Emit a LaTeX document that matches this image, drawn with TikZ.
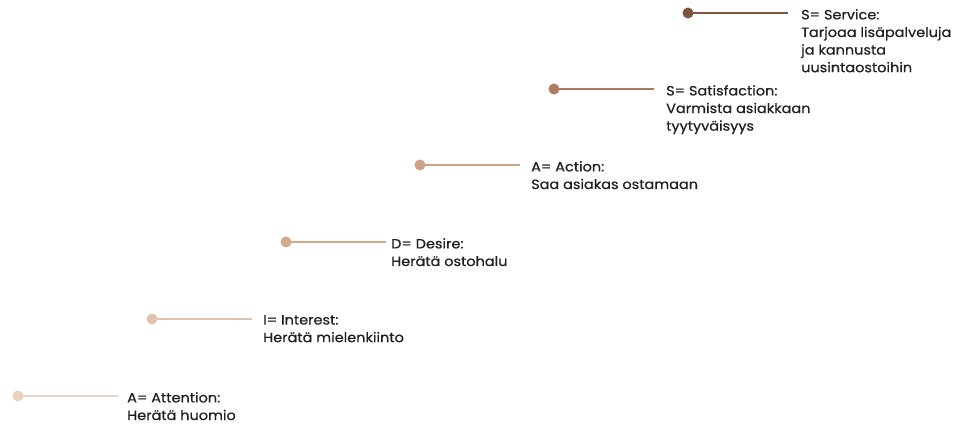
\documentclass[tikz,border=0pt]{standalone}
\usepackage{fontspec}
\setmainfont{Poppins}[FakeStretch=1.08,FakeBold=0.6]
\begin{document}
\begin{tikzpicture}[x=1pt,y=-1pt,
  dotmark/.style={circle,inner sep=0pt,minimum size=11pt},
  stem/.style={line width=2pt},
  label/.style={anchor=north west,align=left,inner sep=0pt,
    font=\fontsize{13.4}{17.6}\selectfont,text=black!88}]
\useasboundingbox (0,0) rectangle (955,425);
\definecolor{c1}{HTML}{ECD3BF}
\definecolor{c2}{HTML}{E0C3AE}
\definecolor{c3}{HTML}{D4A98C}
\definecolor{c4}{HTML}{CDA08A}
\definecolor{c5}{HTML}{B07A5E}
\definecolor{c6}{HTML}{7E5340}
% one step: dot, stem and caption
\foreach \n/\x/\y/\c/\tx/\txt in {
  a/18/396/c1/127/{A= Attention:\\Herätä huomio},
  b/152/319/c2/263/{I= Interest:\\Herätä mielenkiinto},
  c/286/242/c3/391/{D= Desire:\\Herätä ostohalu},
  d/420/165/c4/531/{A= Action:\\Saa asiakas ostamaan},
  e/554/89/c5/666/{S= Satisfaction:\\Varmista asiakkaan\\tyytyväisyys},
  f/688/13/c6/801/{S= Service:\\Tarjoaa lisäpalveluja\\ja kannusta\\uusintaostoihin}}{
  \node[dotmark,fill=\c] (dot\n) at (\x,\y) {};
  \coordinate (end\n) at (\x+100,\y);
  \draw[stem,draw=\c] (dot\n.center) -- (end\n);
  \node[label] (txt\n) at (\tx,\y-4) {\txt};
}
\end{tikzpicture}
\end{document}
